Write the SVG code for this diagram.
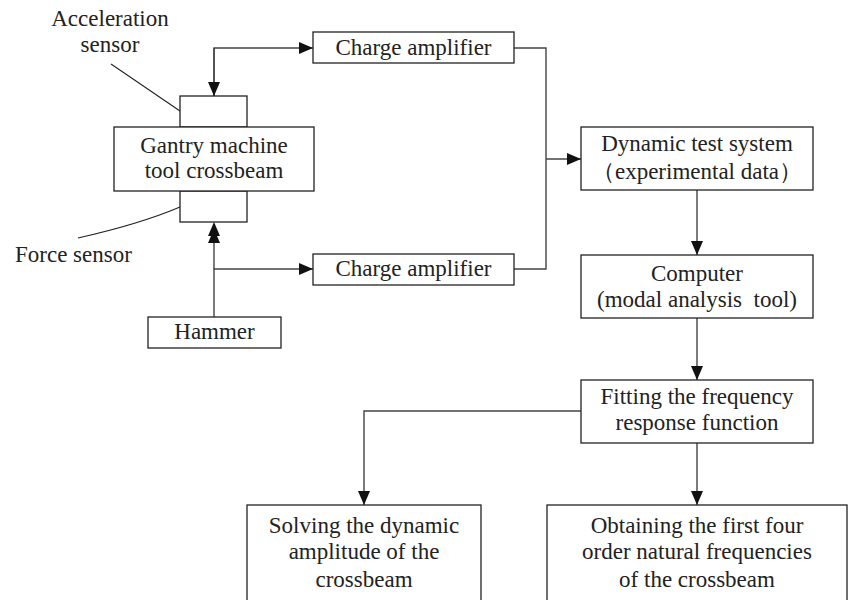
<svg xmlns="http://www.w3.org/2000/svg" width="848" height="600" viewBox="0 0 848 600">
<style>
.box{fill:#fff;stroke:#222;stroke-width:1.3}
text{font-family:'Liberation Serif','Times New Roman','DejaVu Serif',serif;font-size:23px;fill:#222}
.t{text-anchor:middle}
.c{fill:none;stroke:#444;stroke-width:1.4}
.lead{fill:none;stroke:#222;stroke-width:1.1}
</style>
<defs>
<marker id="ah" viewBox="0 0 14 12" refX="14" refY="6" markerWidth="14" markerHeight="12" markerUnits="userSpaceOnUse" orient="auto">
<path d="M0,0 L14,6 L0,12 Z" fill="#111"/>
</marker>
</defs>
<rect width="848" height="600" fill="#fff"/>
<g id="connectors">
<path class="c" d="M214,96 V48 H313" marker-end="url(#ah)"/>
<path class="c" d="M214,48 V96" marker-end="url(#ah)"/>
<path class="c" d="M214,317 V269 H313" marker-end="url(#ah)"/>
<path class="c" d="M214,269 V243"/>
<path d="M214,222 L220,236 L208,236 Z" fill="#111"/>
<path d="M214,229 L220,243 L208,243 Z" fill="#111"/>
<path class="c" d="M514,48 H546 V269 H514"/>
<path class="c" d="M546,159 H581" marker-end="url(#ah)"/>
<path class="c" d="M697,190 V255" marker-end="url(#ah)"/>
<path class="c" d="M697,318 V380" marker-end="url(#ah)"/>
<path class="c" d="M581,411 H364 V505" marker-end="url(#ah)"/>
<path class="c" d="M697,443 V505" marker-end="url(#ah)"/>
<path class="lead" d="M111,64 L180,111"/>
<path class="lead" d="M78,238 Q140,224 180,207"/>
</g>
<g id="accel-label">
<text class="t" x="110" y="26">Acceleration</text>
<text class="t" x="110" y="52">sensor</text>
</g>
<g id="force-label">
<text x="15" y="262">Force sensor</text>
</g>
<g id="accel-sensor"><rect class="box" x="180" y="96" width="67" height="31"/></g>
<g id="force-sensor"><rect class="box" x="180" y="191" width="67" height="31"/></g>
<g id="crossbeam">
<rect class="box" x="114" y="127" width="200" height="64"/>
<text class="t" x="214" y="153">Gantry machine</text>
<text class="t" x="214" y="178">tool crossbeam</text>
</g>
<g id="charge-amp-1">
<rect class="box" x="313" y="32" width="201" height="31"/>
<text class="t" x="413.5" y="55">Charge amplifier</text>
</g>
<g id="charge-amp-2">
<rect class="box" x="313" y="254" width="201" height="31"/>
<text class="t" x="413.5" y="276">Charge amplifier</text>
</g>
<g id="hammer">
<rect class="box" x="148" y="317" width="133" height="31"/>
<text class="t" x="214.5" y="339">Hammer</text>
</g>
<g id="dynamic-test">
<rect class="box" x="581" y="127" width="232" height="63"/>
<text class="t" x="697" y="151">Dynamic test system</text>
<text class="t" x="697" y="179">（experimental data）</text>
</g>
<g id="computer">
<rect class="box" x="581" y="255" width="232" height="63"/>
<text class="t" x="697" y="281">Computer</text>
<text class="t" x="697" y="307" xml:space="preserve">(modal analysis  tool)</text>
</g>
<g id="fitting">
<rect class="box" x="581" y="380" width="232" height="63"/>
<text class="t" x="697" y="404">Fitting the frequency</text>
<text class="t" x="697" y="430">response function</text>
</g>
<g id="solving">
<rect class="box" x="247" y="505" width="234" height="100"/>
<text class="t" x="364" y="533">Solving the dynamic</text>
<text class="t" x="364" y="559">amplitude of the</text>
<text class="t" x="364" y="587">crossbeam</text>
</g>
<g id="obtaining">
<rect class="box" x="547" y="505" width="300" height="100"/>
<text class="t" x="697" y="533">Obtaining the first four</text>
<text class="t" x="697" y="559">order natural frequencies</text>
<text class="t" x="697" y="587">of the crossbeam</text>
</g>
</svg>
